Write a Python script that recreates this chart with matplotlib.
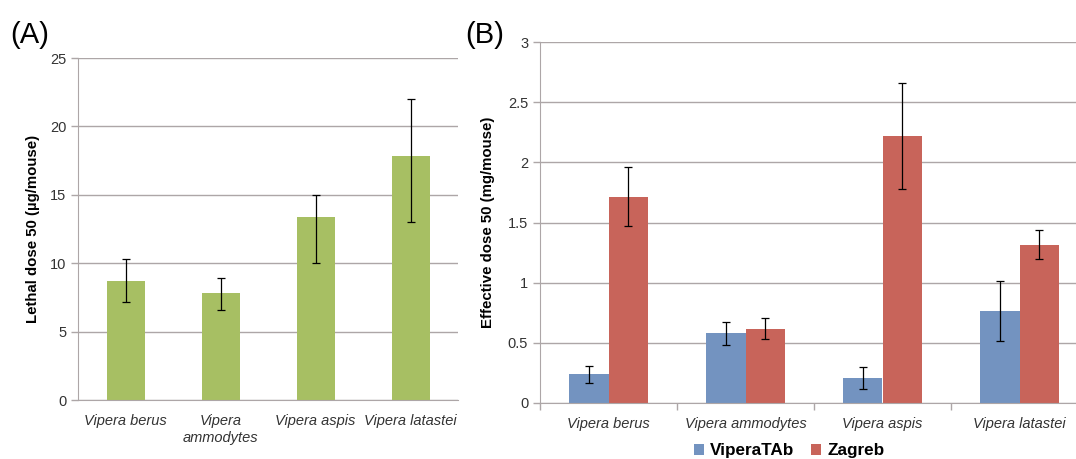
import matplotlib
matplotlib.use("Agg")
import matplotlib.pyplot as plt
import numpy as np

plt.rcParams['font.family'] = ['Liberation Sans', 'DejaVu Sans']

# Panel A data
species_a = ["Vipera berus", "Vipera\nammodytes", "Vipera aspis", "Vipera latastei"]
ld50 = [8.7, 7.8, 13.4, 17.8]
ld50_low = [7.2, 6.6, 10.0, 13.0]
ld50_high = [10.3, 8.9, 15.0, 22.0]

# Panel B data
species_b = ["Vipera berus", "Vipera ammodytes", "Vipera aspis", "Vipera latastei"]
series_names = ["ViperaTAb", "Zagreb"]
ed50_vipera = [0.24, 0.58, 0.205, 0.765]
ed50_vipera_low = [0.165, 0.48, 0.115, 0.515]
ed50_vipera_high = [0.31, 0.675, 0.30, 1.015]
ed50_zagreb = [1.71, 0.615, 2.22, 1.315]
ed50_zagreb_low = [1.475, 0.53, 1.775, 1.20]
ed50_zagreb_high = [1.965, 0.705, 2.66, 1.435]

GREEN = "#A7BF63"
BLUE = "#7393C0"
RED = "#C8645A"
GRID = "#ADA6A7"
TXT = "#333333"

W, H = 1076, 459
fig = plt.figure(figsize=(W / 100, H / 100), dpi=100)

def style(ax):
    for s in ["top", "right"]:
        ax.spines[s].set_visible(False)
    ax.spines["left"].set_color(GRID)
    ax.spines["bottom"].set_color(GRID)
    ax.yaxis.grid(True, color=GRID, linewidth=1.0)
    ax.set_axisbelow(True)
    ax.tick_params(axis="y", colors=GRID, labelcolor=TXT, labelsize=10.5, length=5, width=1)

# Panel A
axA = fig.add_axes([78 / W, 1 - 400 / H, 380 / W, 342 / H])
xa = np.arange(len(species_a))
yerr_a = [np.array(ld50) - np.array(ld50_low), np.array(ld50_high) - np.array(ld50)]
axA.bar(xa, ld50, width=0.4, color=GREEN, zorder=2)
axA.errorbar(xa, ld50, yerr=yerr_a, fmt="none", ecolor="black", elinewidth=0.9,
             capsize=3, capthick=0.9, zorder=3)
axA.set_xlim(-0.5, 3.5)
axA.set_ylim(0, 25)
axA.set_yticks([0, 5, 10, 15, 20, 25])
style(axA)
axA.set_xticks(xa)
axA.set_xticklabels(species_a, fontstyle="italic", fontsize=10.5, color=TXT, linespacing=1.3)
axA.tick_params(axis="x", length=0, pad=10)
axA.set_ylabel("Lethal dose 50 (\u00b5g/mouse)", fontsize=10.8, fontweight="bold", labelpad=7)
fig.text(10 / W, 1 - 35 / H, "(A)", fontsize=21, va="center", ha="left")

# Panel B
axB = fig.add_axes([540 / W, 1 - 403 / H, (W - 540) / W, 361 / H])
xb = np.arange(len(species_b))
bw = 0.285
yerr_v = [np.array(ed50_vipera) - np.array(ed50_vipera_low),
          np.array(ed50_vipera_high) - np.array(ed50_vipera)]
yerr_z = [np.array(ed50_zagreb) - np.array(ed50_zagreb_low),
          np.array(ed50_zagreb_high) - np.array(ed50_zagreb)]
axB.bar(xb - bw / 2, ed50_vipera, width=bw, color=BLUE, label=series_names[0], zorder=2)
axB.bar(xb + bw / 2, ed50_zagreb, width=bw, color=RED, label=series_names[1], zorder=2)
axB.errorbar(xb - bw / 2, ed50_vipera, yerr=yerr_v, fmt="none", ecolor="black",
             elinewidth=0.9, capsize=3, capthick=0.9, zorder=3)
axB.errorbar(xb + bw / 2, ed50_zagreb, yerr=yerr_z, fmt="none", ecolor="black",
             elinewidth=0.9, capsize=3, capthick=0.9, zorder=3)
axB.set_xlim(-0.5, -0.5 + (W - 540) / 137.0)
axB.set_ylim(0, 3)
axB.set_yticks([0, 0.5, 1, 1.5, 2, 2.5, 3])
axB.set_yticklabels(["0", "0.5", "1", "1.5", "2", "2.5", "3"])
style(axB)
axB.set_xticks(xb)
axB.set_xticklabels(species_b, fontstyle="italic", fontsize=10.5, color=TXT)
axB.tick_params(axis="x", which="major", length=0, pad=10)
axB.set_xticks([-0.5, 0.5, 1.5, 2.5], minor=True)
axB.tick_params(axis="x", which="minor", length=5, color=GRID, width=1)
axB.set_ylabel("Effective dose 50 (mg/mouse)", fontsize=10.8, fontweight="bold", labelpad=9)
fig.text(465 / W, 1 - 35 / H, "(B)", fontsize=21, va="center", ha="left")

leg = fig.legend(loc="center", bbox_to_anchor=(789 / W, 1 - 451 / H), ncol=2, frameon=False,
                 prop={"weight": "bold", "size": 12.3}, handlelength=0.6, handleheight=0.6,
                 handletextpad=0.35, columnspacing=1.0, borderpad=0)

fig.savefig("out.png", dpi=100)
